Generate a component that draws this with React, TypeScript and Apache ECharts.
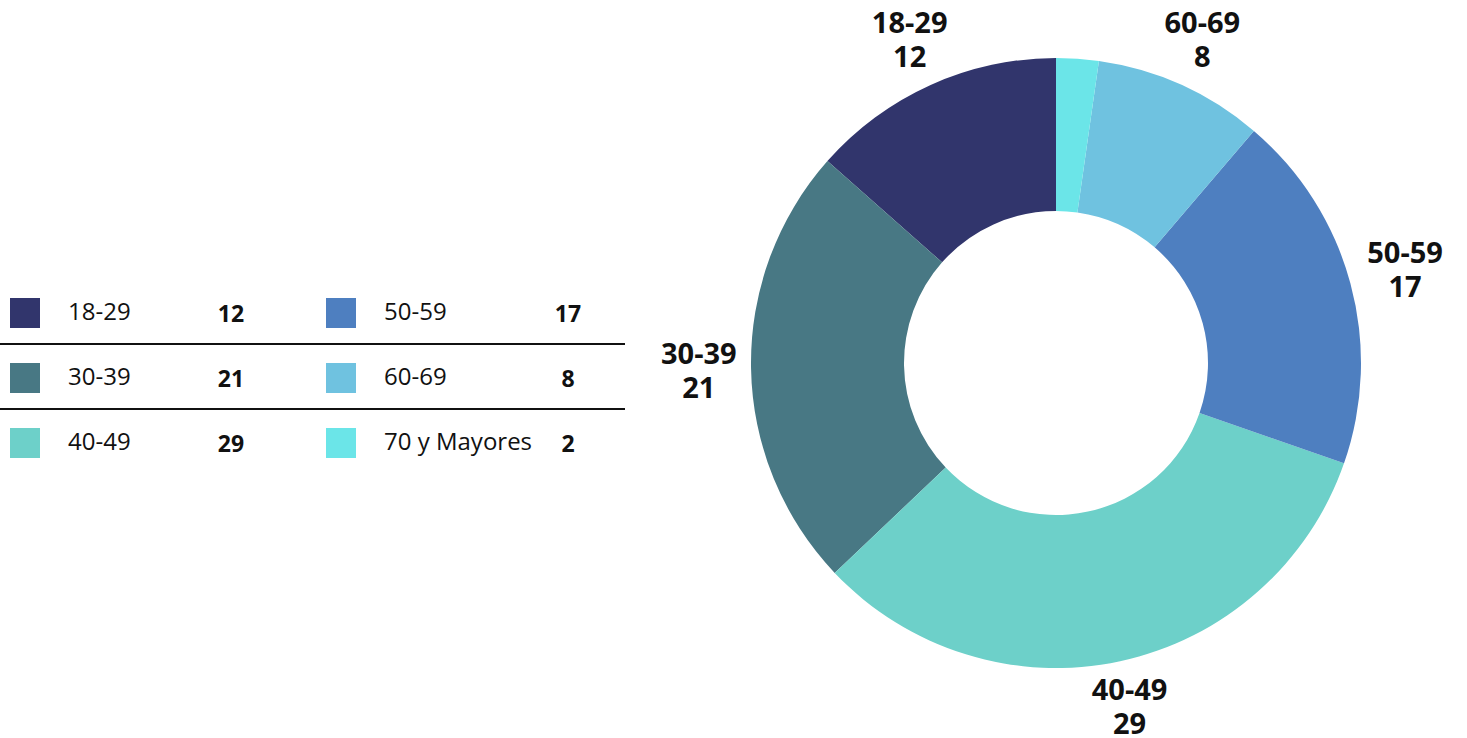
import React, { useEffect, useRef } from "react";
import * as echarts from "echarts";

const categories = ["18-29", "30-39", "40-49", "50-59", "60-69", "70 y Mayores"];
const values = [12, 21, 29, 17, 8, 2];
const colors = ["#31356c", "#487884", "#6dd0c9", "#4e7fc0", "#6fc2e0", "#6be5e8"];
const hiddenLabels = ["70 y Mayores"];

const FONT = "'Open Sans', sans-serif";
const CX = 1056;
const CY = 363;
const R_IN = 152;
const R_OUT = 305;
const LABEL_OFFSET = 14;

export default function App() {
  const ref = useRef<HTMLDivElement>(null);

  useEffect(() => {
    if (!ref.current) return;
    const chart = echarts.init(ref.current, undefined, { renderer: "svg" });
    const valueOf = (name: string) => values[categories.indexOf(name)];

    const total = values.reduce((a, b) => a + b, 0);
    const midFrac: number[] = [];
    let acc = 0;
    values.forEach((v) => {
      midFrac.push((acc + v / 2) / total);
      acc += v;
    });

    const makeLegend = (names: string[], left: number, nameWidth: number) => ({
      show: true,
      orient: "vertical" as const,
      left,
      top: 298,
      padding: 0,
      itemWidth: 30,
      itemHeight: 30,
      itemGap: 35,
      icon: "rect",
      selectedMode: false,
      data: names,
      formatter: (name: string) => `{n|${name}}{v|${valueOf(name)}}`,
      textStyle: {
        rich: {
          n: {
            fontFamily: FONT,
            fontSize: 24,
            color: "#111",
            padding: [0, 0, 5, 23],
            width: nameWidth,
          },
          v: {
            fontFamily: FONT,
            fontSize: 23,
            fontWeight: "bold",
            color: "#111",
            width: 40,
            align: "center",
          },
        },
      },
    });

    const data = categories.map((c, i) => ({
      name: c,
      value: values[i],
      itemStyle: { color: colors[i] },
    }));

    const labelData = categories.map((c, i) => ({
      name: c,
      value: values[i],
      label: { show: !hiddenLabels.includes(c) },
    }));

    chart.setOption({
      animation: false,
      legend: [
        makeLegend(categories.slice(0, 3), 10, 143),
        makeLegend(categories.slice(3), 326, 164),
      ],
      graphic: [
        { type: "line", shape: { x1: 0, y1: 344, x2: 625, y2: 344 }, style: { stroke: "#111", lineWidth: 2 } },
        { type: "line", shape: { x1: 0, y1: 409, x2: 625, y2: 409 }, style: { stroke: "#111", lineWidth: 2 } },
      ],
      series: [
        {
          type: "pie",
          center: [CX, CY],
          radius: [R_IN, R_OUT],
          startAngle: 90,
          clockwise: false,
          silent: true,
          label: { show: false },
          labelLine: { show: false },
          emphasis: { disabled: true },
          data,
        },
        {
          type: "pie",
          center: [CX, CY],
          radius: [R_OUT + 40, R_OUT + 60],
          startAngle: 90,
          clockwise: false,
          silent: true,
          itemStyle: { color: "rgba(0,0,0,0)" },
          emphasis: { disabled: true },
          labelLine: { show: false },
          label: {
            show: true,
            position: "inside",
            formatter: "{a|{b}}\n{a|{c}}",
            rich: {
              a: {
                fontFamily: FONT,
                fontSize: 29,
                fontWeight: "bold",
                color: "#111",
                lineHeight: 34,
                align: "center",
              },
            },
          },
          labelLayout: (p: any) => {
            const a = midFrac[p.dataIndex] * 2 * Math.PI;
            const dx = -Math.sin(a);
            const dy = -Math.cos(a);
            const hw = p.labelRect.width / 2;
            const hh = p.labelRect.height / 2 - 8;
            const d = R_OUT + LABEL_OFFSET + Math.abs(dx) * hw + Math.abs(dy) * hh;
            return { x: CX + dx * d, y: CY + dy * d };
          },
          data: labelData,
        },
      ],
    });

    return () => chart.dispose();
  }, []);

  return (
    <div
      ref={ref}
      style={{ position: "fixed", left: 0, top: 0, width: 1467, height: 738, background: "#fff" }}
    />
  );
}
